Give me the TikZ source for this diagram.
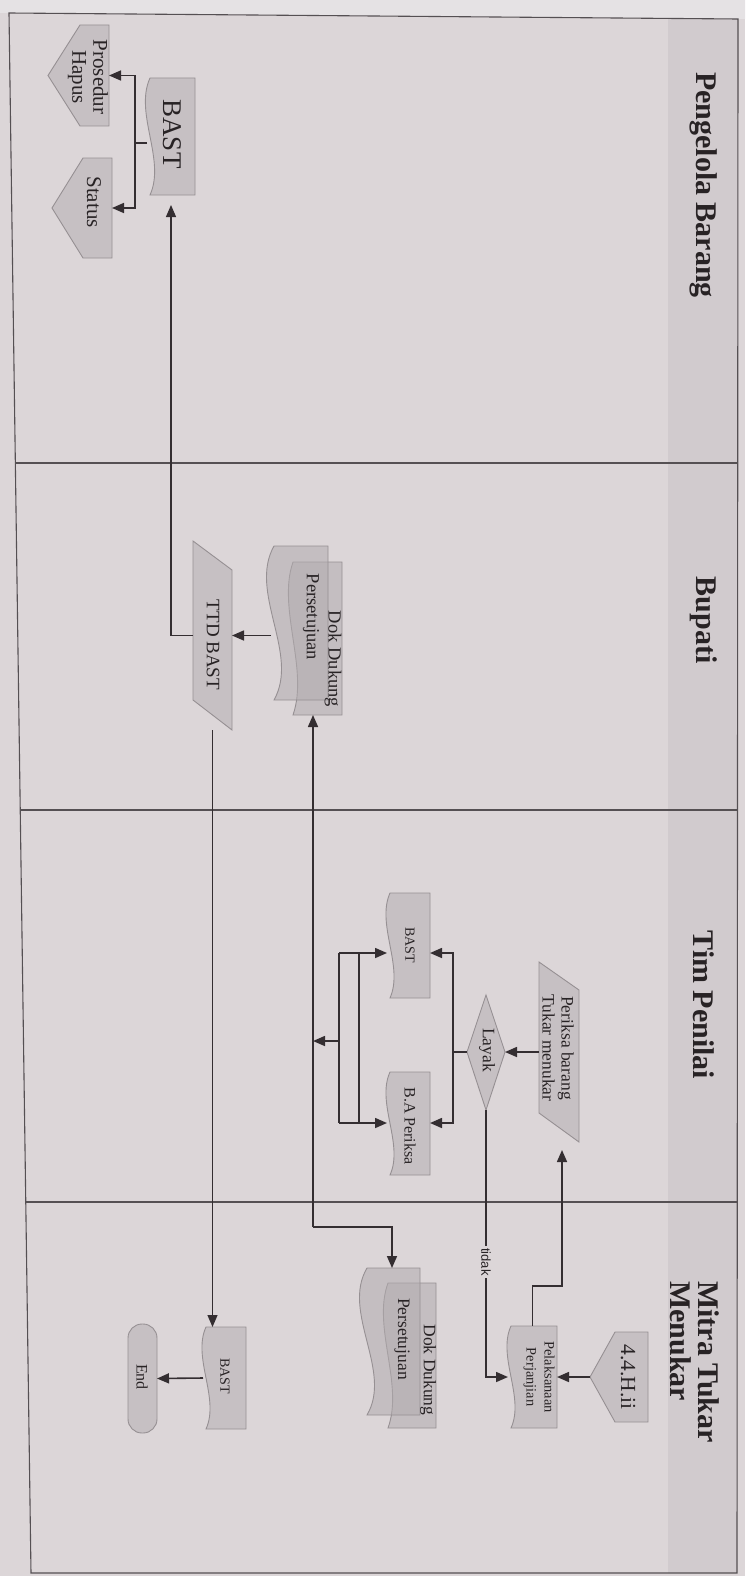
\documentclass[tikz,border=0pt]{standalone}
\usepackage{fontspec}
\setmainfont{Liberation Serif}
\setsansfont{Liberation Sans}
\usetikzlibrary{arrows.meta,calc}

\definecolor{paper}{RGB}{220,214,216}
\definecolor{paperhi}{RGB}{229,226,228}
\definecolor{bandc}{RGB}{209,203,206}
\definecolor{shapefill}{RGB}{198,192,195}
\definecolor{shapefilltr}{RGB}{178,172,175}
\definecolor{shapeline}{RGB}{150,144,147}
\definecolor{wirec}{RGB}{52,46,49}
\definecolor{ink}{RGB}{40,35,37}
\definecolor{framec}{RGB}{85,80,83}

% document symbol with its wavy edge on the left
\newcommand\docnode[6]{% name, left, right, top, bottom, wave
  \pgfmathsetmacro\shW{#3-#2}\pgfmathsetmacro\shH{#5-#4}%
  \pgfmathsetmacro\shX{(#2+#3)/2}\pgfmathsetmacro\shY{(#4+#5)/2}%
  \pgfmathsetmacro\shL{#2+3}%
  \pgfmathsetmacro\shP{#4+0.3*\shH}\pgfmathsetmacro\shQ{#5-0.3*\shH}%
  \pgfmathsetmacro\shOut{#2+3-#6}\pgfmathsetmacro\shIn{#2+3+#6}%
  \path[shp] (\shL,#4) -- (#3,#4) -- (#3,#5) -- (\shL,#5)
     .. controls (\shIn,\shQ) and (\shOut,\shP) .. (\shL,#4) -- cycle;
  \node[hold, minimum width=\shW pt, minimum height=\shH pt] (#1) at (\shX,\shY) {};}

% same symbol, half transparent, for stacked documents
\newcommand\docsheet[6]{% name, left, right, top, bottom, wave
  \pgfmathsetmacro\shW{#3-#2}\pgfmathsetmacro\shH{#5-#4}%
  \pgfmathsetmacro\shX{(#2+#3)/2}\pgfmathsetmacro\shY{(#4+#5)/2}%
  \pgfmathsetmacro\shL{#2+3}%
  \pgfmathsetmacro\shP{#4+0.3*\shH}\pgfmathsetmacro\shQ{#5-0.3*\shH}%
  \pgfmathsetmacro\shOut{#2+3-#6}\pgfmathsetmacro\shIn{#2+3+#6}%
  \path[sheet] (\shL,#4) -- (#3,#4) -- (#3,#5) -- (\shL,#5)
     .. controls (\shIn,\shQ) and (\shOut,\shP) .. (\shL,#4) -- cycle;
  \node[hold, minimum width=\shW pt, minimum height=\shH pt] (#1) at (\shX,\shY) {};}

% off-page connector pointing left
\newcommand\offpage[6]{% name, tip x, notch x, right, top, bottom
  \pgfmathsetmacro\shW{#4-#2}\pgfmathsetmacro\shH{#6-#5}%
  \pgfmathsetmacro\shX{(#2+#4)/2}\pgfmathsetmacro\shY{(#5+#6)/2}%
  \path[shp] (#3,#5) -- (#4,#5) -- (#4,#6) -- (#3,#6) -- (#2,\shY) -- cycle;
  \node[hold, minimum width=\shW pt, minimum height=\shH pt] (#1) at (\shX,\shY) {};}

% data symbol (parallelogram)
\newcommand\datanode[7]{% name, left, right, top-left, top-right, bottom-left, bottom-right
  \pgfmathsetmacro\shW{#3-#2}\pgfmathsetmacro\shH{#7-#4}%
  \pgfmathsetmacro\shX{(#2+#3)/2}\pgfmathsetmacro\shY{(#4+#7)/2}%
  \path[shp] (#2,#4) -- (#3,#5) -- (#3,#7) -- (#2,#6) -- cycle;
  \node[hold, minimum width=\shW pt, minimum height=\shH pt] (#1) at (\shX,\shY) {};}

\begin{document}
\begin{tikzpicture}[x=1pt,y=-1pt,
  shp/.style={fill=shapefill, draw=shapeline, line width=0.9pt},
  sheet/.style={fill=shapefilltr, fill opacity=0.55, draw=shapeline, line width=0.9pt},
  hold/.style={rectangle, inner sep=0pt, outer sep=0pt, draw=none},
  lbl/.style={text=ink, rotate=-90, inner sep=0pt, align=center},
  lanehead/.style={lbl, font=\fontsize{30}{28}\selectfont\bfseries, align=left},
  flowline/.style={draw=wirec, line width=1.6pt},
  thinline/.style={draw=wirec, line width=1.1pt},
  arrowline/.style={flowline, -{Triangle[length=12pt,width=10pt]}},
  thinarrow/.style={thinline, -{Triangle[length=12pt,width=10pt]}},
  tidaklbl/.style={lbl, fill=paper, inner sep=2pt, font=\sffamily\fontsize{13}{15}\selectfont}]

% paper and page frame
\useasboundingbox (0,0) rectangle (745,1576);
\fill[paper] (0,0) rectangle (745,1576);
\fill[paperhi] (0,0) -- (745,0) -- (745,19) -- (738,19) -- (9,13) -- (0,13) -- cycle;
\fill[bandc] (668,18.5) -- (738,19) -- (737,1573) -- (668,1573) -- cycle;
\draw[framec, line width=1.1pt] (9,13) -- (738,19) -- (737,1573) -- (31,1573) -- cycle;

% lane dividers
\draw[framec, line width=1.1pt] (15.3,463) -- (738,463);
\draw[framec, line width=1.1pt] (20.2,810) -- (737.6,810);
\draw[framec, line width=1.1pt] (25.8,1202) -- (737.3,1202);

% lane titles
\node[lanehead] (lane1) at (704,185) {Pengelola Barang};
\node[lanehead] (lane2) at (704,620) {Bupati};
\node[lanehead] (lane3) at (704,1005) {Tim Penilai};
\node[lanehead] (lane4) at (695,1362) {Mitra Tukar\\Menukar};

% ---- Pengelola Barang
\docnode{bastA}{147}{195}{78}{195}{16}
\node[lbl, font=\fontsize{27}{28}\selectfont] (bastAt) at (172,134) {BAST};
\offpage{prosedur}{48}{80}{109}{25}{126}
\node[lbl, font=\fontsize{21}{21}\selectfont] (prosedurt) at (88,77) {Prosedur\\Hapus};
\offpage{status}{52}{83}{112}{158}{258}
\node[lbl, font=\fontsize{21}{21}\selectfont] (statust) at (94,202) {Status};

% ---- Bupati
\docsheet{dokBb}{290}{342}{562}{715}{16}
\docsheet{dokBf}{271}{328}{546}{700}{26}
\node[lbl, font=\fontsize{18.5}{20}\selectfont] (dokBt1) at (333,659) {Dok Dukung};
\node[lbl, font=\fontsize{18.5}{20}\selectfont] (dokBt2) at (311,617) {Persetujuan};
\datanode{ttd}{193}{232}{541}{570}{700}{730}
\node[lbl, font=\fontsize{19}{20}\selectfont] (ttdt) at (213,645) {TTD BAST};

% ---- Tim Penilai
\datanode{periksa}{539}{579}{962}{990}{1113}{1142}
\node[lbl, font=\fontsize{17.5}{19}\selectfont] (perikast) at (558,1048) {Periksa barang\\Tukar menukar};
\path[shp] (486,995) -- (505,1052) -- (486,1110) -- (467,1052) -- cycle;
\node[hold, minimum width=38pt, minimum height=115pt] (layak) at (486,1052) {};
\node[lbl, font=\fontsize{17.5}{19}\selectfont] (layakt) at (487,1050) {Layak};
\docnode{bastT}{387}{430}{893}{998}{14}
\node[lbl, font=\fontsize{14}{15}\selectfont] (bastTt) at (410,945) {BAST};
\docnode{baP}{387}{430}{1072}{1175}{14}
\node[lbl, font=\fontsize{16}{17}\selectfont] (baPt) at (410,1126) {B.A Periksa};

% ---- Mitra Tukar Menukar
\offpage{hii}{590}{615}{648}{1332}{1422}
\node[lbl, font=\fontsize{21.5}{22}\selectfont] (hiit) at (628,1377) {4.4.H.ii};
\docnode{pelak}{508}{557}{1326}{1428}{14}
\node[lbl, font=\fontsize{14.4}{18}\selectfont] (pelakt) at (539,1377) {Pelaksanaan\\Perjanjian};
\docsheet{dokMb}{385}{436}{1283}{1428}{16}
\docsheet{dokMf}{364}{420}{1268}{1415}{26}
\node[lbl, font=\fontsize{17.5}{19}\selectfont] (dokMt1) at (428,1370) {Dok Dukung};
\node[lbl, font=\fontsize{17.5}{19}\selectfont] (dokMt2) at (402,1339) {Persetujuan};
\docnode{bastM}{203}{246}{1327}{1429}{14}
\node[lbl, font=\fontsize{14}{15}\selectfont] (bastMt) at (225,1376) {BAST};
\path[shp, rounded corners=14pt] (128,1324) rectangle (157,1433);
\node[hold, minimum width=29pt, minimum height=109pt] (endM) at (142.5,1378.5) {};
\node[lbl, font=\fontsize{16}{17}\selectfont] (endMt) at (142,1377) {End};

% ---- connectors
% BAST to Prosedur Hapus and Status
\coordinate (jA) at (135,143);
\draw[flowline] (bastA.west |- jA) -- (jA);
\draw[arrowline] (jA) |- (prosedur.east);
\draw[arrowline] (jA) |- (status.east);

% TTD BAST up to BAST
\draw[thinarrow, shorten >=10pt] (ttd.west) -| (bastA.south);
% supporting documents into TTD BAST
\draw[arrowline] (dokBf.west |- ttd.east) -- (ttd.east);
% TTD BAST down to the partner's BAST
\draw[thinarrow] (ttd.south) -- (ttd.south |- bastM.north);

% Periksa -> Layak
\draw[arrowline] (periksa.west) -- (layak.east);
% Layak -> BAST and B.A Periksa
\coordinate (kR) at (453,1052);
\coordinate (kT) at (339,953);
\coordinate (kB) at (339,1123);
\draw[flowline] (layak.west) -- (kR);
\draw[arrowline] (kR) -- (kR |- kT) -- (bastT.east |- kT);
\draw[arrowline] (kR) -- (kR |- kB) -- (baP.east |- kB);
% documents gathered on the left side
\draw[arrowline] (kT) -- (bastT.west |- kT);
\draw[arrowline] (kB) -- (baP.west |- kB);
\draw[flowline] (kT) -- (kB);
\draw[flowline] ($(kT)+(20,0)$) -- ($(kB)+(20,0)$);
\coordinate (jB) at (313,1227);
\coordinate (jC) at (339,1041);
\draw[arrowline] (jC) -- (jB |- jC);
% supporting documents to Bupati and partner
\draw[arrowline] (jB) -- (jB |- dokBb.south);
\draw[arrowline] (jB) -| (dokMf.north);

% Layak: tidak -> Pelaksanaan Perjanjian
\draw[arrowline] (layak.south) |- node[tidaklbl, pos=0.285] (tidak) {tidak} (pelak.west);
% Pelaksanaan Perjanjian -> Periksa
\coordinate (jP) at (562,1286);
\draw[arrowline, shorten >=8pt] (pelak.north) |- (jP) -- (jP |- periksa.south);
% 4.4.H.ii -> Pelaksanaan Perjanjian
\draw[arrowline] (hii.west) -- (pelak.east);
% BAST -> End
\draw[arrowline] (bastM.west) -- (endM.east);
\end{tikzpicture}
\end{document}
